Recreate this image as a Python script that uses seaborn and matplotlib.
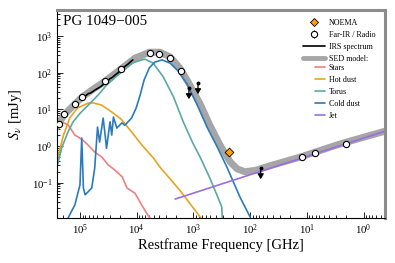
import numpy as np
import matplotlib
matplotlib.use("Agg")
import matplotlib.pyplot as plt
import matplotlib.ticker as mticker
from matplotlib.lines import Line2D
import seaborn as sns

# ---- data (restframe frequency in GHz, flux density in mJy) ----
stars_nu = [3.2e5, 2.57e5, 2.0e5, 1.62e5, 1.23e5, 9.1e4, 7.2e4, 5.5e4, 4.1e4, 3.2e4,
            2.4e4, 1.8e4, 1.48e4, 1.07e4, 7.8e3, 6.3e3, 5.6e3]
stars_flux = [2.8, 3.3, 4.4, 3.8, 2.0, 1.5, 1.07, 0.69, 0.50, 0.31,
              0.22, 0.145, 0.072, 0.052, 0.022, 0.013, 0.0098]

hot_nu = [2.8e5, 2.4e5, 1.95e5, 1.51e5, 1.10e5, 7.2e4, 5.9e4, 4.2e4, 2.75e4, 1.9e4,
          1.23e4, 8.1e3, 5.1e3, 3.9e3, 1.74e3, 760, 630]
hot_flux = [0.14, 0.58, 2.0, 5.9, 11, 14.8, 15.1, 13.2, 8.5, 5.5,
            2.45, 1.07, 0.48, 0.27, 0.063, 0.0117, 0.008]

torus_nu = [2.8e5, 2.57e5, 2.1e5, 1.62e5, 1.32e5, 1.0e5, 7.1e4, 4.8e4, 3.4e4, 1.82e4,
            1.23e4, 8.1e3, 7.1e3, 5.1e3, 3.4e3, 2.24e3, 1.51e3, 1.02e3, 760, 513,
            372, 316, 309]
torus_flux = [0.126, 0.25, 0.89, 2.45, 4.6, 7.8, 13.2, 24.5, 46, 107,
              182, 224, 234, 182, 77, 22, 4.6, 1.2, 0.50, 0.135,
              0.041, 0.022, 0.011]

cold_nu = [1.62e5, 1.23e5, 1.0e5, 9.3e4, 8.7e4, 8.1e4, 6.2e4, 5.5e4, 4.9e4, 4.5e4,
           3.9e4, 3.6e4, 3.4e4, 2.95e4, 2.75e4, 2.57e4, 2.24e4, 1.82e4, 1.62e4, 1.23e4,
           1.02e4, 8.7e3, 7.4e3, 6.0e3, 4.8e3, 3.55e3, 2.57e3, 1.86e3, 1.29e3, 870,
           575, 380, 257, 151, 100]
cold_flux = [0.011, 0.025, 0.087, 1.66, 0.072, 0.047, 0.072, 0.25, 3.3, 1.29,
             5.8, 2.0, 0.87, 4.6, 2.0, 6.2, 3.1, 4.3, 3.7, 5.8,
             11, 24.5, 63, 135, 195, 224, 182, 112, 49, 14,
             3.3, 0.95, 0.27, 0.041, 0.0117]

jet_nu = [2.1e3, 29.5, 0.40]
jet_flux = [0.036, 0.305, 2.6]

sed_nu = [2.8e5, 2.57e5, 1.9e5, 1.23e5, 9.1e4, 5.5e4, 3.6e4, 1.9e4, 1.07e4, 5.9e3,
          3.9e3, 2.57e3, 1.74e3, 1.15e3, 760, 513, 339, 224, 170, 123,
          79, 45, 13.2, 2.57, 0.40]
sed_flux = [2.9, 3.3, 7.1, 14, 22, 38, 59, 126, 250, 363,
            363, 270, 135, 46, 14, 3.7, 1.07, 0.37, 0.24, 0.20,
            0.22, 0.29, 0.50, 1.15, 2.6]

irs_nu = [1.0e5, 9.2e4, 8.5e4, 7.8e4, 7.1e4, 6.5e4, 5.9e4, 5.4e4, 4.9e4, 4.4e4,
          4.0e4, 3.6e4, 3.3e4, 3.0e4, 2.7e4, 2.4e4, 2.2e4, 1.96e4, 1.78e4, 1.6e4,
          1.45e4, 1.3e4, 1.17e4]
irs_flux = [19, 21, 22.5, 24, 27, 28, 31, 34, 37, 41,
            46, 53, 56, 68, 74, 87, 96, 112, 128, 151,
            168, 195, 224]

far_nu = [2.34e5, 1.9e5, 1.23e5, 9.1e4, 3.6e4, 1.9e4, 5.9e3, 4.1e3, 2.57e3, 1.66e3,
          12.2, 7.2, 2.0]
far_flux = [4.0, 7.5, 14, 22, 59, 126, 345, 325, 250, 112,
            0.50, 0.65, 1.12]
far_err = [0.3, 0.5, 0.8, 1.2, 3, 6, 20, 20, 15, 8, 0.03, 0.04, 0.06]

lim_nu = [1.2e3, 830, 65]
lim_flux = [38, 52, 0.25]

noema_nu = [234]
noema_flux = [0.69]

# ---- style ----
sns.set_theme(style="ticks")
plt.rcParams['font.family'] = ['Liberation Serif', 'DejaVu Serif']
plt.rcParams['mathtext.fontset'] = 'stix'
for key in ['text.color', 'axes.labelcolor', 'xtick.color', 'ytick.color']:
    plt.rcParams[key] = 'black'

c_stars = '#f08080'
c_hot = '#e8a41e'
c_torus = '#5aa9a4'
c_cold = '#2a7bbd'
c_jet = '#9a6ee0'
c_sed = '#a6a6a6'

fig = plt.figure(figsize=(3.95, 2.63), dpi=100)
ax = fig.add_axes([57 / 395, 1 - 218 / 263, 328 / 395, 208 / 263])
ax.set_xscale('log')
ax.set_yscale('log')

sns.lineplot(x=sed_nu, y=sed_flux, ax=ax, color=c_sed, lw=5, sort=False,
             estimator=None, zorder=1, solid_capstyle='butt', solid_joinstyle='round')
for nu, fl, col in [(stars_nu, stars_flux, c_stars), (hot_nu, hot_flux, c_hot),
                    (torus_nu, torus_flux, c_torus), (cold_nu, cold_flux, c_cold),
                    (jet_nu, jet_flux, c_jet)]:
    sns.lineplot(x=nu, y=fl, ax=ax, color=col, lw=1.2, sort=False,
                 estimator=None, zorder=2, solid_joinstyle='round')
sns.lineplot(x=irs_nu, y=irs_flux, ax=ax, color='black', lw=1.2, sort=False,
             estimator=None, zorder=3)

far = ax.errorbar(far_nu, far_flux, yerr=far_err, fmt='o', ms=4.5, mfc='white',
                  mec='black', mew=0.8, ecolor='black', elinewidth=0.8, zorder=5)
sns.scatterplot(x=noema_nu, y=noema_flux, ax=ax, marker='D', s=20, color='#ff9f00',
                edgecolor='black', linewidth=0.6, zorder=6)

# upper limits
for nu, fl in zip(lim_nu, lim_flux):
    ax.annotate('', xy=(nu, fl / 10 ** 0.3), xytext=(nu, fl),
                arrowprops=dict(arrowstyle='-|>,head_length=0.5,head_width=0.3',
                                mutation_scale=6, color='black', lw=0.9,
                                shrinkA=0, shrinkB=0),
                zorder=5)
ax.plot(lim_nu, lim_flux, 'o', color='black', ms=1.8, zorder=5)

ax.set_xlim(10 ** 5.405, 10 ** -0.379)
ax.set_ylim(10 ** -1.96, 10 ** 3.71)

ax.xaxis.set_major_locator(mticker.LogLocator(base=10, numticks=20))
ax.xaxis.set_minor_locator(mticker.LogLocator(base=10, subs=np.arange(2, 10), numticks=100))
ax.yaxis.set_major_locator(mticker.LogLocator(base=10, numticks=20))
ax.yaxis.set_minor_locator(mticker.LogLocator(base=10, subs=np.arange(2, 10), numticks=100))
ax.xaxis.set_minor_formatter(mticker.NullFormatter())
ax.yaxis.set_minor_formatter(mticker.NullFormatter())

ax.tick_params(which='both', direction='in', top=False, right=False,
               labelsize=7.8, pad=3, width=0.6, color='black')
ax.tick_params(which='major', length=4)
ax.tick_params(which='minor', length=2)

for s in ['left', 'bottom']:
    ax.spines[s].set_color('black')
    ax.spines[s].set_linewidth(0.8)
for s in ['top', 'right']:
    ax.spines[s].set_color('#8c8c8c')
    ax.spines[s].set_linewidth(2.2)

ax.set_xlabel('Restframe Frequency [GHz]', fontsize=10.5)
ax.set_ylabel(r'$S_\nu$ [mJy]', fontsize=10.5)
ax.yaxis.set_label_coords(-0.10, 0.5)
ax.xaxis.set_label_coords(0.5, -0.097)

ax.text(0.018, 0.975, 'PG 1049\u2212005', transform=ax.transAxes, ha='left', va='top',
        fontsize=10.8)

# ---- legends ----
h_noema = Line2D([], [], marker='D', ls='none', ms=4.2, mfc='#ff9f00', mec='black', mew=0.6)
h_irs = Line2D([], [], color='black', lw=1.2)
h_sed = Line2D([], [], color=c_sed, lw=3.5)
leg1 = ax.legend([h_noema, far, h_irs, h_sed],
                 ['NOEMA', 'Far-IR / Radio', 'IRS spectrum', 'SED model:'],
                 loc='upper left', bbox_to_anchor=(303 / 395, 1 - 19 / 263),
                 bbox_transform=fig.transFigure, frameon=False, fontsize=5.8,
                 handlelength=2.7, handletextpad=0.5, labelspacing=0.5,
                 borderpad=0, borderaxespad=0)
ax.add_artist(leg1)
comp_handles = [Line2D([], [], color=c, lw=1.2) for c in [c_stars, c_hot, c_torus, c_cold, c_jet]]
ax.legend(comp_handles, ['Stars', 'Hot dust', 'Torus', 'Cold dust', 'Jet'],
          loc='upper left', bbox_to_anchor=(315 / 395, 1 - 64 / 263),
          bbox_transform=fig.transFigure, frameon=False, fontsize=5.8,
          handlelength=1.2, handletextpad=0.5, labelspacing=0.5,
          borderpad=0, borderaxespad=0)

fig.savefig('out.png', dpi=100)
